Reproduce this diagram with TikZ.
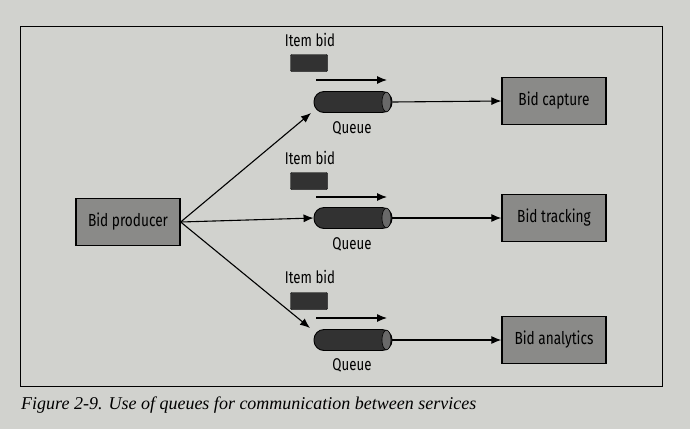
\documentclass[tikz,border=0pt]{standalone}
\usepackage{fontspec}
\setsansfont{Fira Sans}[FakeStretch=0.78]
\setmainfont{Liberation Serif}
\usetikzlibrary{arrows.meta}
\definecolor{paper}{RGB}{209,210,206}
\definecolor{boxgray}{RGB}{138,138,136}
\definecolor{qdark}{RGB}{50,50,50}
\definecolor{qend}{RGB}{105,105,105}
\tikzset{
  service/.style={draw=black, line width=1.3pt, fill=boxgray, minimum width=104pt, minimum height=47pt, font=\sffamily\fontsize{17.5}{19}\selectfont},
  queue/.style={draw=black, line width=0.9pt, fill=qdark, rounded corners=10pt, minimum width=78pt, minimum height=21pt, inner sep=0pt},
  qcap/.style={fill=qend, draw=black, line width=0.6pt},
  itembid/.style={draw=black, fill=qdark, minimum width=37pt, minimum height=17pt, inner sep=0pt, rounded corners=1pt},
  lbl/.style={font=\sffamily\fontsize{17}{19}\selectfont, inner sep=0pt},
  flow/.style={-{Latex[length=10pt,width=8pt]}, line width=1.1pt},
}
\begin{document}
\begin{tikzpicture}[x=1pt,y=-1pt]
    \useasboundingbox[fill=paper] (0,0) rectangle (690,429);
    % Marco
    \draw[line width=0.8pt] (20,26) rectangle (662,386);

    % Productor
    \node[service] (prod) at (128,222) {Bid producer};

    % Cola 1
    \node[queue] (q1) at (353,102) {};
    \fill[qcap] ([xshift=-6pt]q1.east) ellipse (4.5pt and 9.8pt);
    \node[itembid] (b1) at (309,63) {};
    \node[lbl] at (310,40) {Item bid};
    \node[lbl] at (352,128) {Queue};
    \coordinate (a1) at (316,80);
    \coordinate (e1) at (387,80);
    \coordinate (in1) at (311,113);
    \node[service] (s1) at (554,101) {Bid capture};

    % Cola 2
    \node[queue] (q2) at (353,218) {};
    \fill[qcap] ([xshift=-6pt]q2.east) ellipse (4.5pt and 9.8pt);
    \node[itembid] (b2) at (309,181) {};
    \node[lbl] at (310,158) {Item bid};
    \node[lbl] at (352,244) {Queue};
    \coordinate (a2) at (316,197);
    \coordinate (e2) at (387,197);
    \node[service] (s2) at (554,218) {Bid tracking};

    % Cola 3
    \node[queue] (q3) at (353,340) {};
    \fill[qcap] ([xshift=-6pt]q3.east) ellipse (4.5pt and 9.8pt);
    \node[itembid] (b3) at (309,301) {};
    \node[lbl] at (310,277) {Item bid};
    \node[lbl] at (352,365) {Queue};
    \coordinate (a3) at (316,318);
    \coordinate (e3) at (387,318);
    \coordinate (in3) at (310,328);
    \node[service] (s3) at (554,340) {Bid analytics};

    \draw[flow] (prod.east) -- (in1);
    \draw[flow] (prod.east) -- (q2.west);
    \draw[flow] (prod.east) -- (in3);
    \draw[flow] (a1) -- (e1);
    \draw[flow] (a2) -- (e2);
    \draw[flow] (a3) -- (e3);
    \draw[flow] (q1.east) -- (s1.west);
    \draw[flow] (q2.east) -- (s2.west);
    \draw[flow] (q3.east) -- (s3.west);

    % Leyenda
    \node[anchor=west, inner sep=0pt, font=\itshape\fontsize{18}{20}\selectfont] (cap) at (21,405) {Figure 2-9. Use of queues for communication between services};
\end{tikzpicture}
\end{document}
